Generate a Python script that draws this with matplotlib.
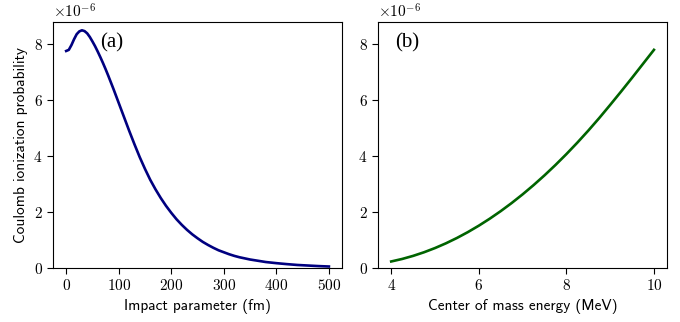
import numpy as np
import matplotlib
matplotlib.use("Agg")
import matplotlib.pyplot as plt

# fonts: cm serif for ticks, cm sans for labels
plt.rcParams['font.family'] = 'serif'
plt.rcParams['font.serif'] = ['cmr10']
plt.rcParams['mathtext.fontset'] = 'cm'
plt.rcParams['axes.formatter.use_mathtext'] = True
plt.rcParams['axes.unicode_minus'] = False

# (a) ionization probability vs impact parameter (in units of 1e-6)
b_fm = [0, 5, 10, 15, 20, 25, 30, 35, 40, 45, 50, 55, 60, 65, 70, 75, 80, 85, 90, 95,
        100, 110, 120, 130, 140, 150, 160, 170, 180, 190, 200, 210, 220, 230, 240,
        250, 260, 270, 280, 290, 300, 310, 320, 330, 340, 350, 360, 370, 380, 390,
        400, 420, 440, 460, 480, 500]
p_b = [7.76, 7.8, 7.97, 8.18, 8.36, 8.46, 8.5, 8.47, 8.39, 8.26, 8.1, 7.93, 7.74,
       7.54, 7.33, 7.11, 6.88, 6.64, 6.4, 6.15, 5.9, 5.4, 4.9, 4.42, 3.96, 3.54,
       3.15, 2.81, 2.5, 2.22, 1.97, 1.74, 1.54, 1.36, 1.2, 1.06, 0.93, 0.82, 0.72,
       0.63, 0.56, 0.49, 0.43, 0.38, 0.34, 0.3, 0.27, 0.24, 0.21, 0.19, 0.17, 0.135,
       0.105, 0.085, 0.065, 0.05]

# (b) ionization probability vs centre of mass energy
e_mev = [4, 4.25, 4.5, 4.75, 5, 5.25, 5.5, 5.75, 6, 6.25, 6.5, 6.75, 7, 7.25, 7.5,
         7.75, 8, 8.25, 8.5, 8.75, 9, 9.25, 9.5, 9.75, 10]
p_e = [0.23, 0.32, 0.43, 0.56, 0.71, 0.88, 1.07, 1.28, 1.51, 1.76, 2.03, 2.32, 2.63,
       2.96, 3.31, 3.68, 4.07, 4.48, 4.91, 5.36, 5.83, 6.31, 6.8, 7.3, 7.8]

scale = 1e-6

fig = plt.figure(figsize=(6.8, 3.22), dpi=100)
ax1 = fig.add_axes([0.078, 0.168, 0.425, 0.764])
ax2 = fig.add_axes([0.556, 0.168, 0.425, 0.764])

ax1.plot(b_fm, np.array(p_b) * scale, color='navy', lw=1.9, solid_joinstyle='round')
ax2.plot(e_mev, np.array(p_e) * scale, color='darkgreen', lw=1.9, solid_joinstyle='round')

ax1.set_xticks([0, 100, 200, 300, 400, 500])
ax2.set_xticks([4, 6, 8, 10])

for ax in (ax1, ax2):
    ax.set_ylim(0, 8.8e-6)
    ax.set_yticks(np.array([0, 2, 4, 6, 8]) * scale)
    ax.tick_params(labelsize=11, length=4)
    ax.yaxis.get_offset_text().set_fontsize(11)

ax1.set_xlabel('Impact parameter (fm)', family='cmss10', fontsize=11)
ax2.set_xlabel('Center of mass energy (MeV)', family='cmss10', fontsize=11)
ax1.set_ylabel('Coulomb ionization probability', family='cmss10', fontsize=11)

ax1.text(0.163, 0.915, '(a)', transform=ax1.transAxes, family='Liberation Serif',
         fontsize=15, va='center', ha='left')
ax2.text(0.06, 0.915, '(b)', transform=ax2.transAxes, family='Liberation Serif',
         fontsize=15, va='center', ha='left')

fig.savefig('out.png', dpi=100)
